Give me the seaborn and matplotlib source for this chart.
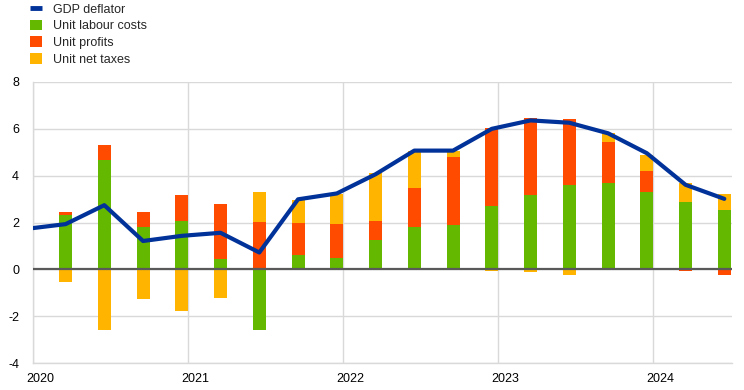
import numpy as np
import pandas as pd
import matplotlib
matplotlib.use("Agg")
import matplotlib.pyplot as plt
from matplotlib.transforms import ScaledTranslation
from matplotlib.patches import Patch
from matplotlib.lines import Line2D
import seaborn as sns

# ---------------- data ----------------
quarters = ["2020Q1", "2020Q2", "2020Q3", "2020Q4",
            "2021Q1", "2021Q2", "2021Q3", "2021Q4",
            "2022Q1", "2022Q2", "2022Q3", "2022Q4",
            "2023Q1", "2023Q2", "2023Q3", "2023Q4",
            "2024Q1", "2024Q2"]
unit_labour_costs = [2.30, 4.68, 1.80, 2.06, 0.43, -2.60, 0.60, 0.49, 1.26,
                     1.80, 1.89, 2.71, 3.17, 3.60, 3.68, 3.31, 2.87, 2.53]
unit_profits = [0.13, 0.63, 0.64, 1.11, 2.35, 2.01, 1.37, 1.44, 0.80,
                1.68, 2.91, 3.34, 3.31, 2.83, 1.77, 0.90, -0.08, -0.26]
unit_net_taxes = [-0.55, -2.57, -1.28, -1.76, -1.23, 1.30, 0.99, 1.28, 2.05,
                  1.58, 0.26, -0.09, -0.13, -0.26, 0.36, 0.67, 0.81, 0.68]
deflator_quarters = ["2019Q4"] + quarters
gdp_deflator = [1.73, 1.93, 2.74, 1.21, 1.43, 1.56, 0.72, 2.99, 3.24, 4.06,
                5.07, 5.07, 6.00, 6.36, 6.26, 5.81, 4.96, 3.61, 3.01]

year_ticks = [2020, 2021, 2022, 2023, 2024]
y_ticks = [-4, -2, 0, 2, 4, 6, 8]

series_names = ["Unit labour costs", "Unit profits", "Unit net taxes"]
colors = {"GDP deflator": "#003299", "Unit labour costs": "#65B800",
          "Unit profits": "#FF4B00", "Unit net taxes": "#FFB400"}


def qpos(q):
    year = int(q[:4])
    n = int(q[-1])
    return year + (n - 1) * 0.25 + 0.21


# ---------------- figure ----------------
sns.set_theme(style="white")
plt.rcParams["font.family"] = ["Liberation Sans", "DejaVu Sans"]

fig = plt.figure(figsize=(7.44, 3.90), dpi=100)
ax = fig.add_axes([33 / 744, 27 / 390, (732 - 33) / 744, (363 - 82) / 390])

bars = pd.DataFrame({"quarter": quarters,
                     "Unit labour costs": unit_labour_costs,
                     "Unit profits": unit_profits,
                     "Unit net taxes": unit_net_taxes})
bars["x"] = bars["quarter"].map(qpos)

pos_base = np.zeros(len(bars))
neg_base = np.zeros(len(bars))
for name in series_names:
    vals = bars[name].to_numpy()
    base = np.where(vals >= 0, pos_base, neg_base)
    ax.bar(bars["x"], vals, width=0.084, bottom=base, color=colors[name],
           linewidth=0, zorder=3)
    pos_base = pos_base + np.where(vals >= 0, vals, 0)
    neg_base = neg_base + np.where(vals < 0, vals, 0)

line_df = pd.DataFrame({"quarter": deflator_quarters, "value": gdp_deflator})
line_df["x"] = line_df["quarter"].map(qpos)
sns.lineplot(data=line_df, x="x", y="value", ax=ax, color=colors["GDP deflator"],
             linewidth=3.0, zorder=5, legend=False)

ax.axhline(0, color="#595959", linewidth=1.6, zorder=4)

ax.set_xlim(2020.0, 2020 + (732 - 33) / 155)
ax.set_ylim(-4, 8)
ax.set_yticks(y_ticks)
ax.set_yticklabels([str(v) for v in y_ticks])
ax.set_xticks(year_ticks)
ax.set_xticklabels([str(v) for v in year_ticks])
ax.grid(True, color="#d9d9d9", linewidth=1.0, zorder=0)
ax.set_axisbelow(True)
ax.set_xlabel("")
ax.set_ylabel("")
for s in ["top", "right"]:
    ax.spines[s].set_visible(False)
for s in ["left", "bottom"]:
    ax.spines[s].set_color("#d9d9d9")
    ax.spines[s].set_linewidth(1.0)
ax.tick_params(axis="both", length=0, labelsize=9, colors="#000000")
ax.tick_params(axis="y", pad=10)
ax.tick_params(axis="x", pad=7)
offset = ScaledTranslation(7 / 100, 0, fig.dpi_scale_trans)
for lab in ax.get_xticklabels():
    lab.set_transform(lab.get_transform() + offset)

handles = [Line2D([0], [0], color=colors["GDP deflator"], linewidth=3.5,
                  solid_capstyle="butt")]
handles += [Patch(facecolor=colors[n], edgecolor="none") for n in series_names]
labels = ["GDP deflator"] + series_names
fig.legend(handles, labels, loc="upper left",
           bbox_to_anchor=(30 / 744, 1.0 - 3 / 390),
           frameon=False, fontsize=9, handlelength=0.95, handleheight=0.95,
           handletextpad=0.9, labelspacing=0.32, borderaxespad=0.0,
           borderpad=0.0)

fig.savefig("out.png", dpi=100)
